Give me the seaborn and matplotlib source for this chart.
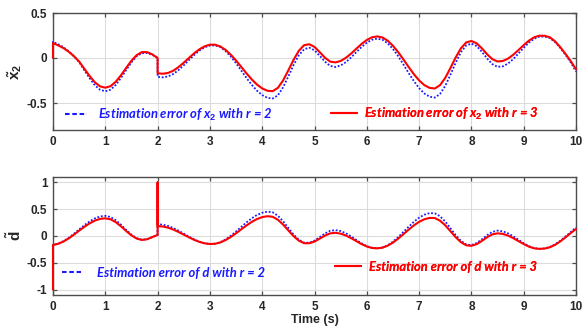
import numpy as np
import pandas as pd
import matplotlib
matplotlib.use("Agg")
import matplotlib.pyplot as plt
from matplotlib.lines import Line2D
import seaborn as sns

# ---------------- data ----------------
t_top = [0.0] + [round(0.1 * i, 1) for i in range(0, 21)] + [2.0] + [round(0.1 * i, 1) for i in range(21, 101)]
t_bot = [0.0] + [round(0.1 * i, 1) for i in range(0, 21)] + [2.0, 2.0] + [round(0.1 * i, 1) for i in range(21, 101)]

x2_err_r3 = [0.0,
    0.165, 0.14, 0.11, 0.07, 0.02, -0.04, -0.12, -0.20, -0.27, -0.315, -0.33,
    -0.313, -0.264, -0.192, -0.109, -0.03, 0.032, 0.066, 0.065, 0.04, 0.0,
    -0.17,
    -0.175, -0.166, -0.141, -0.101, -0.052, 0.001, 0.053, 0.097, 0.13, 0.148,
    0.148, 0.128, 0.09, 0.036, -0.028, -0.099, -0.171, -0.238, -0.295, -0.338,
    -0.364, -0.369, -0.332, -0.249, -0.137, -0.02, 0.08, 0.142, 0.153, 0.123,
    0.065, 0.003, -0.04, -0.049, -0.033, 0.002, 0.049, 0.103, 0.156, 0.2,
    0.23, 0.24, 0.228, 0.192, 0.136, 0.065, -0.016, -0.10, -0.18, -0.249,
    -0.301, -0.332, -0.339, -0.302, -0.221, -0.111, 0.007, 0.108, 0.173, 0.189,
    0.163, 0.108, 0.042, -0.013, -0.039, -0.033, -0.007, 0.036, 0.088, 0.143,
    0.193, 0.23, 0.248, 0.247, 0.23, 0.185, 0.12, 0.045, -0.035, -0.125]

x2_err_r2 = [0.0,
    0.18, 0.152, 0.12, 0.075, 0.02, -0.045, -0.137, -0.225, -0.303, -0.353, -0.37,
    -0.352, -0.299, -0.222, -0.133, -0.048, 0.019, 0.055, 0.055, 0.035, 0.0,
    -0.21,
    -0.215, -0.205, -0.178, -0.134, -0.081, -0.023, 0.034, 0.082, 0.119, 0.138,
    0.14, 0.122, 0.077, 0.016, -0.058, -0.14, -0.222, -0.298, -0.363, -0.412,
    -0.443, -0.45, -0.415, -0.325, -0.205, -0.078, 0.03, 0.097, 0.115, 0.085,
    0.025, -0.04, -0.088, -0.10, -0.083, -0.046, 0.006, 0.065, 0.122, 0.17,
    0.203, 0.215, 0.203, 0.163, 0.1, 0.02, -0.072, -0.167, -0.257, -0.335,
    -0.394, -0.43, -0.44, -0.399, -0.31, -0.185, -0.052, 0.065, 0.14, 0.16,
    0.132, 0.07, -0.005, -0.068, -0.098, -0.093, -0.062, -0.012, 0.05, 0.113,
    0.171, 0.214, 0.237, 0.238, 0.222, 0.177, 0.112, 0.035, -0.05, -0.15]

d_err_r3 = [-1.0,
    -0.167, -0.145, -0.103, -0.045, 0.024, 0.10, 0.171, 0.236, 0.287, 0.319, 0.33,
    0.311, 0.258, 0.18, 0.092, 0.011, -0.048, -0.074, -0.06, -0.02, 0.02,
    1.0, 0.185,
    0.177, 0.155, 0.12, 0.075, 0.025, -0.025, -0.072, -0.11, -0.137, -0.149,
    -0.145, -0.12, -0.076, -0.018, 0.051, 0.125, 0.197, 0.263, 0.316, 0.352,
    0.369, 0.358, 0.303, 0.213, 0.104, -0.003, -0.087, -0.134, -0.136, -0.103,
    -0.049, 0.008, 0.049, 0.06, 0.044, 0.009, -0.04, -0.096, -0.151, -0.195,
    -0.223, -0.23, -0.218, -0.18, -0.123, -0.049, 0.034, 0.118, 0.198, 0.264,
    0.312, 0.337, 0.335, 0.286, 0.199, 0.089, -0.023, -0.116, -0.173, -0.183,
    -0.152, -0.092, -0.023, 0.03, 0.05, 0.039, 0.008, -0.04, -0.095, -0.15,
    -0.198, -0.229, -0.24, -0.234, -0.21, -0.165, -0.1, -0.025, 0.055, 0.13]

d_err_r2 = [-1.0,
    -0.167, -0.143, -0.097, -0.034, 0.042, 0.123, 0.202, 0.273, 0.328, 0.364, 0.375,
    0.354, 0.295, 0.21, 0.114, 0.025, -0.04, -0.069, -0.06, -0.02, 0.02,
    1.0, 0.22,
    0.211, 0.187, 0.148, 0.099, 0.044, -0.012, -0.064, -0.106, -0.135, -0.149,
    -0.144, -0.115, -0.064, 0.004, 0.084, 0.17, 0.254, 0.33, 0.392, 0.434,
    0.454, 0.442, 0.378, 0.274, 0.15, 0.027, -0.07, -0.123, -0.125, -0.086,
    -0.021, 0.048, 0.097, 0.11, 0.092, 0.05, -0.007, -0.073, -0.137, -0.189,
    -0.222, -0.23, -0.215, -0.173, -0.106, -0.021, 0.076, 0.173, 0.265, 0.342,
    0.397, 0.427, 0.423, 0.368, 0.269, 0.143, 0.015, -0.091, -0.156, -0.17,
    -0.132, -0.063, 0.016, 0.077, 0.10, 0.087, 0.05, -0.005, -0.07, -0.135,
    -0.19, -0.227, -0.24, -0.232, -0.205, -0.155, -0.09, -0.01, 0.075, 0.16]

x_ticks = [0, 1, 2, 3, 4, 5, 6, 7, 8, 9, 10]
x_ticklabels = ["0", "1", "2", "3", "4", "5", "6", "7", "8", "9", "10"]
top_yticks = [-0.5, 0, 0.5]
top_yticklabels = ["-0.5", "0", "0.5"]
bot_yticks = [-1, -0.5, 0, 0.5, 1]
bot_yticklabels = ["-1", "-0.5", "0", "0.5", "1"]

label_top_r2 = "Estimation error of $x_2$ with r = 2"
label_top_r3 = "Estimation error of $x_2$ with r = 3"
label_bot_r2 = "Estimation error of d with r = 2"
label_bot_r3 = "Estimation error of d with r = 3"

# ---------------- style ----------------
sns.set_style("white")
plt.rcParams["font.family"] = ["Liberation Sans", "DejaVu Sans"]
plt.rcParams["mathtext.fontset"] = "custom"
plt.rcParams["mathtext.it"] = "Lato:italic:bold"
plt.rcParams["mathtext.rm"] = "Liberation Sans:bold"
plt.rcParams["mathtext.bf"] = "Liberation Sans:bold"

BLUE = "#1a1aff"
RED = "#ff0000"
SPINE = "#4d4d4d"
TXT = "#262626"

fig = plt.figure(figsize=(5.82, 3.26), dpi=100)
W, H = 582, 326
ax1 = fig.add_axes([53 / W, 1 - 130 / H, 523 / W, 117 / H])
ax2 = fig.add_axes([53 / W, 1 - 295 / H, 523 / W, 118 / H])

df_top = pd.DataFrame({"t": t_top, "r2": x2_err_r2, "r3": x2_err_r3})
df_bot = pd.DataFrame({"t": t_bot, "r2": d_err_r2, "r3": d_err_r3})

for ax, df in ((ax1, df_top), (ax2, df_bot)):
    sns.lineplot(data=df, x="t", y="r2", ax=ax, sort=False, estimator=None,
                 color=BLUE, linewidth=1.3, linestyle=(0, (1, 1)), zorder=3)
    sns.lineplot(data=df, x="t", y="r3", ax=ax, sort=False, estimator=None,
                 color=RED, linewidth=1.5, zorder=4)
    for ln in ax.get_lines():
        ln.set_clip_on(False)

def style(ax, yticks, yticklabels, ylim):
    ax.set_xlim(0, 10)
    ax.set_ylim(*ylim)
    ax.set_xticks(x_ticks)
    ax.set_xticklabels(x_ticklabels)
    ax.set_yticks(yticks)
    ax.set_yticklabels(yticklabels)
    ax.grid(True, color="#dcdcdc", linewidth=0.8)
    ax.set_axisbelow(True)
    for s in ax.spines.values():
        s.set_color(SPINE)
        s.set_linewidth(1.0)
        s.set_visible(True)
        s.set_zorder(2)
    ax.tick_params(direction="in", length=3, width=0.9, color=SPINE,
                   top=True, right=True, bottom=True, left=True,
                   labelsize=8.5, labelcolor=TXT, pad=4)
    for lab in ax.get_xticklabels() + ax.get_yticklabels():
        lab.set_fontweight("bold")
    ax.set_xlabel("")

style(ax1, top_yticks, top_yticklabels, (-0.8, 0.5))
style(ax2, bot_yticks, bot_yticklabels, (-1.1, 1.1))

ax1.set_ylabel(r"$\tilde{\mathrm{x}}_2$", fontsize=11, color=TXT, labelpad=2)
ax2.set_ylabel(r"$\tilde{\mathrm{d}}$", fontsize=11, color=TXT, labelpad=2)
ax2.set_xlabel("Time (s)", fontsize=9, fontweight="bold", color=TXT, labelpad=1)

leg_font = {"family": "Lato", "style": "italic", "weight": "bold", "size": 9.4}

def add_leg(ax, color, ls, label, anchor, hl, tp):
    h = Line2D([], [], color=color, linestyle=ls, linewidth=1.5)
    lg = ax.legend(handles=[h], labels=[label], loc="center left",
                   bbox_to_anchor=anchor, frameon=False, prop=leg_font,
                   labelcolor=color, handlelength=hl, handletextpad=tp,
                   borderpad=0, borderaxespad=0)
    ax.add_artist(lg)

add_leg(ax1, BLUE, (0, (2.2, 1.3)), label_top_r2, (0.023, 0.128), 1.7, 0.8)
add_leg(ax1, RED, "-", label_top_r3, (0.532, 0.137), 2.0, 0.5)
add_leg(ax2, BLUE, (0, (2.2, 1.3)), label_bot_r2, (0.017, 0.186), 1.5, 1.2)
add_leg(ax2, RED, "-", label_bot_r3, (0.539, 0.237), 2.0, 0.6)

fig.savefig("out.png", dpi=100, facecolor="white")
